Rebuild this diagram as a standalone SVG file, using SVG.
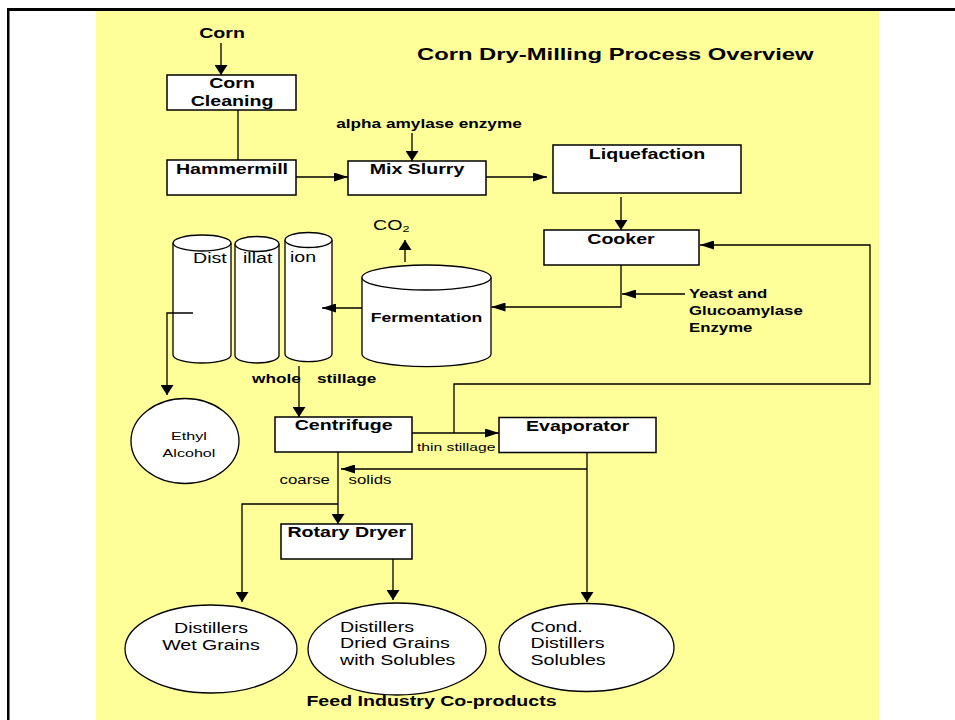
<svg xmlns="http://www.w3.org/2000/svg" width="955" height="720" viewBox="0 0 955 720">
<style>
.bx{fill:#fff;stroke:#000;stroke-width:1.5}
.cy{fill:#fff;stroke:#000;stroke-width:1.3}
.ln{fill:none;stroke:#000;stroke-width:1.3}
.b{font-family:"Liberation Sans",Arial,sans-serif;font-weight:bold;fill:#000}
.n{font-family:"Liberation Sans",Arial,sans-serif;fill:#000}
.m{text-anchor:middle}
</style>
<defs>
<marker id="ah" markerUnits="userSpaceOnUse" markerWidth="14" markerHeight="9" refX="14" refY="4.5" orient="auto"><path d="M0,0 L14,4.5 L0,9 z" fill="#000"/></marker>
<marker id="av" markerUnits="userSpaceOnUse" markerWidth="10" markerHeight="13" refX="10" refY="6.5" orient="auto"><path d="M0,0 L10,6.5 L0,13 z" fill="#000"/></marker>
</defs>
<rect x="0" y="0" width="955" height="720" fill="#fff"/>
<rect x="96" y="11" width="783" height="709" fill="#FFFF99"/>
<rect x="7" y="8" width="948" height="3" fill="#000"/>
<rect x="7" y="8" width="2.5" height="712" fill="#000"/>

<g id="title"><text class="b" font-size="17" transform="matrix(1.4 0 0 1 417 60)">Corn Dry-Milling Process Overview</text></g>
<g id="corn-input"><text class="b m" font-size="14" transform="matrix(1.4 0 0 1 222 38)">Corn</text></g>
<g id="corn-cleaning"><rect class="bx" x="167" y="75" width="129" height="35"/>
<text class="b m" font-size="14" transform="matrix(1.4 0 0 1 232 88)">Corn<tspan x="0" dy="18">Cleaning</tspan></text></g>
<g id="hammermill"><rect class="bx" x="167" y="160" width="129" height="35"/>
<text class="b m" font-size="14" transform="matrix(1.4 0 0 1 232 174)">Hammermill</text></g>
<g id="alpha-amylase"><text class="b m" font-size="12.3" transform="matrix(1.4 0 0 1 429 128)">alpha amylase enzyme</text></g>
<g id="mix-slurry"><rect class="bx" x="348" y="161" width="138" height="34"/>
<text class="b m" font-size="14" transform="matrix(1.4 0 0 1 417 174)">Mix Slurry</text></g>
<g id="liquefaction"><rect class="bx" x="553" y="145" width="188" height="48"/>
<text class="b m" font-size="14" transform="matrix(1.4 0 0 1 647 159)">Liquefaction</text></g>
<g id="cooker"><rect class="bx" x="544" y="230" width="155" height="35"/>
<text class="b m" font-size="14" transform="matrix(1.4 0 0 1 621 244)">Cooker</text></g>
<g id="yeast"><text class="b" font-size="12" transform="matrix(1.4 0 0 1 689 298)">Yeast and<tspan x="0" dy="17.5">Glucoamylase</tspan><tspan x="0" dy="17">Enzyme</tspan></text></g>
<g id="co2"><text class="n" font-size="14" transform="matrix(1.4 0 0 1 373 230)">CO<tspan font-size="9" dy="1.5">2</tspan></text></g>
<g id="fermentation">
<path class="cy" d="M362,277.5 V354 A64.5,12.7 0 0 0 491,354 V277.5"/>
<ellipse class="cy" cx="426.5" cy="277.5" rx="64.5" ry="12.5"/>
<text class="b m" font-size="12.6" transform="matrix(1.4 0 0 1 426.5 321.5)">Fermentation</text></g>
<g id="distillation">
<path class="cy" d="M173,243 V355 A29,8 0 0 0 231,355 V243"/>
<ellipse class="cy" cx="202" cy="243" rx="29" ry="8"/>
<path class="cy" d="M235,244 V355.5 A22,7.5 0 0 0 279,355.5 V244"/>
<ellipse class="cy" cx="257" cy="244" rx="22" ry="7.5"/>
<path class="cy" d="M285,240 V354 A23.5,7.7 0 0 0 332,354 V240"/>
<ellipse class="cy" cx="308.5" cy="240" rx="23.5" ry="7.5"/>
<text class="n" font-size="14" transform="matrix(1.4 0 0 1 193 263)">Dist</text>
<text class="n" font-size="14" transform="matrix(1.4 0 0 1 243 263)">illat</text>
<text class="n" font-size="14" transform="matrix(1.4 0 0 1 290 262)">ion</text></g>
<g id="whole-stillage"><text class="b" font-size="12.3" transform="matrix(1.4 0 0 1 252 383)">whole<tspan x="46.4">stillage</tspan></text></g>
<g id="ethyl-alcohol"><ellipse class="cy" cx="185" cy="441" rx="54" ry="42.5"/>
<text class="n m" font-size="11.5" transform="matrix(1.4 0 0 1 189 440)">Ethyl<tspan x="0" dy="17">Alcohol</tspan></text></g>
<g id="centrifuge"><rect class="bx" x="275" y="417" width="137" height="35"/>
<text class="b m" font-size="14" transform="matrix(1.4 0 0 1 343.6 430)">Centrifuge</text></g>
<g id="evaporator"><rect class="bx" x="499" y="417.5" width="157" height="35"/>
<text class="b m" font-size="14" transform="matrix(1.4 0 0 1 577.7 430.7)">Evaporator</text></g>
<g id="thin-stillage"><text class="n" font-size="11.2" transform="matrix(1.4 0 0 1 417 450.7)">thin stillage</text></g>
<g id="coarse-solids"><text class="n" font-size="12" transform="matrix(1.4 0 0 1 279.6 484)">coarse<tspan x="49.3">solids</tspan></text></g>
<g id="rotary-dryer"><rect class="bx" x="281" y="524" width="131" height="35"/>
<text class="b m" font-size="14" transform="matrix(1.4 0 0 1 346.8 536.7)">Rotary Dryer</text></g>
<g id="dwg"><ellipse class="cy" cx="211" cy="649" rx="86" ry="44"/>
<text class="n m" font-size="14" transform="matrix(1.4 0 0 1 211 633)">Distillers<tspan x="0" dy="17">Wet Grains</tspan></text></g>
<g id="ddgs"><ellipse class="cy" cx="397" cy="649" rx="89" ry="46"/>
<text class="n" font-size="14" transform="matrix(1.4 0 0 1 340 631.7)">Distillers<tspan x="0" dy="16.7">Dried Grains</tspan><tspan x="0" dy="16.7">with Solubles</tspan></text></g>
<g id="cds"><ellipse class="cy" cx="586.5" cy="647.5" rx="87.5" ry="44"/>
<text class="n" font-size="14" transform="matrix(1.4 0 0 1 530.5 631.7)">Cond.<tspan x="0" dy="16.7">Distillers</tspan><tspan x="0" dy="16.7">Solubles</tspan></text></g>
<g id="feed-label"><text class="b m" font-size="14" transform="matrix(1.4 0 0 1 431.5 706)">Feed Industry Co-products</text></g>

<g id="connectors">
<path class="ln" d="M221,43 V75" marker-end="url(#av)"/>
<path class="ln" d="M238,110 V160"/>
<path class="ln" d="M412,133 V161" marker-end="url(#av)"/>
<path class="ln" d="M296,177 H348" marker-end="url(#ah)"/>
<path class="ln" d="M486,177 H547" marker-end="url(#ah)"/>
<path class="ln" d="M621,197 V230" marker-end="url(#av)"/>
<path class="ln" d="M621,265 V307 H491.5" marker-end="url(#ah)"/>
<path class="ln" d="M685,294 H622" marker-end="url(#ah)"/>
<path class="ln" d="M405,262 V240" marker-end="url(#av)"/>
<path class="ln" d="M362,308 H322" marker-end="url(#ah)"/>
<path class="ln" d="M193,313 H167 V395" marker-end="url(#av)"/>
<path class="ln" d="M299,366 V417" marker-end="url(#av)"/>
<path class="ln" d="M412,433 H499" marker-end="url(#ah)"/>
<path class="ln" d="M454,433 V384 H870 V245 H700" marker-end="url(#ah)"/>
<path class="ln" d="M338,452 V524" marker-end="url(#av)"/>
<path class="ln" d="M338,504 H242 V602" marker-end="url(#av)"/>
<path class="ln" d="M587,452.5 V602" marker-end="url(#av)"/>
<path class="ln" d="M587,469 H341" marker-end="url(#ah)"/>
<path class="ln" d="M393,559 V600" marker-end="url(#av)"/>
</g>
</svg>
